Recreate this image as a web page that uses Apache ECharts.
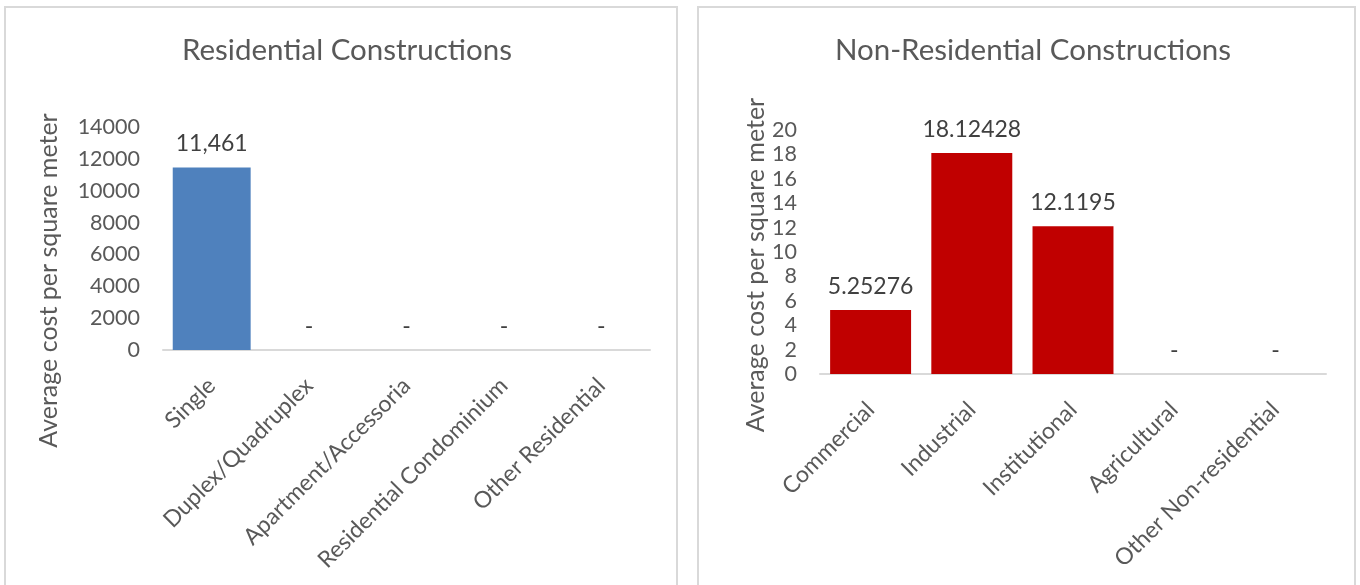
<!DOCTYPE html>
<html>
<head>
<meta charset="utf-8">
<script src="https://cdn.jsdelivr.net/npm/echarts@6/dist/echarts.min.js"></script>
<style>
  html, body { margin: 0; padding: 0; background: #ffffff; }
  #chart { width: 1360px; height: 585px; }
</style>
</head>
<body>
<div id="chart"></div>
<script>
// Average cost per square meter, by construction type
const residentialCategories = ['Single', 'Duplex/Quadruplex', 'Apartment/Accessoria', 'Residential Condominium', 'Other Residential'];
const residentialValues = [11461, 0, 0, 0, 0];

const nonResidentialCategories = ['Commercial', 'Industrial', 'Institutional', 'Agricultural', 'Other Non-residential'];
const nonResidentialValues = [5.25276, 18.12428, 12.1195, 0, 0];

const residentialAxis = { min: 0, max: 14000, interval: 2000 };
const nonResidentialAxis = { min: 0, max: 20, interval: 2 };

const FONT = 'Lato, "Open Sans", sans-serif';
const TEXT = '#595959';
const AXIS_NAME = 'Average cost per square meter';

// zero values are shown as a dash, as in accounting number format
function dashZero(fmt) {
  return p => (p.value === 0 ? '-' : fmt(p.value));
}

function categoryAxis(gridIndex, data) {
  return {
    type: 'category',
    gridIndex,
    data,
    axisTick: { show: false },
    axisLine: { lineStyle: { color: '#d9d9d9', width: 2 } },
    axisLabel: {
      rotate: 45,
      margin: 32,
      interval: 0,
      color: TEXT,
      fontFamily: FONT,
      fontSize: 23
    }
  };
}

function valueAxis(gridIndex, range, nameGap, namePadding) {
  return {
    type: 'value',
    gridIndex,
    min: range.min,
    max: range.max,
    interval: range.interval,
    name: AXIS_NAME,
    nameLocation: 'middle',
    nameGap,
    nameTextStyle: {
      color: TEXT,
      fontFamily: FONT,
      fontSize: 25,
      padding: namePadding
    },
    axisLine: { show: false },
    axisTick: { show: false },
    splitLine: { show: false },
    axisLabel: {
      margin: 23,
      color: TEXT,
      fontFamily: FONT,
      fontSize: 21.5,
      lineHeight: 20,
      showMinLabel: true,
      showMaxLabel: true,
      hideOverlap: false,
      formatter: v => String(v)
    }
  };
}

function barSeries(index, values, color, fmt) {
  return {
    type: 'bar',
    xAxisIndex: index,
    yAxisIndex: index,
    data: values,
    barCategoryGap: '20%',
    itemStyle: { color },
    label: {
      show: true,
      position: 'top',
      distance: 12,
      color: '#404040',
      fontFamily: FONT,
      fontSize: 23,
      formatter: dashZero(fmt)
    },
    animation: false
  };
}

const chart = echarts.init(document.getElementById('chart'), null, { renderer: 'canvas' });

chart.setOption({
  backgroundColor: '#ffffff',
  animation: false,
  title: [
    {
      text: 'Residential Constructions',
      left: 342,
      top: 30,
      textAlign: 'center',
      textStyle: { color: TEXT, fontFamily: FONT, fontSize: 29.5, fontWeight: 'normal' }
    },
    {
      text: 'Non-Residential Constructions',
      left: 1028,
      top: 30,
      textAlign: 'center',
      textStyle: { color: TEXT, fontFamily: FONT, fontSize: 29.5, fontWeight: 'normal' }
    }
  ],
  graphic: [
    {
      type: 'rect',
      shape: { x: 5, y: 7, width: 672, height: 600 },
      style: { fill: 'none', stroke: '#d9d9d9', lineWidth: 2 },
      silent: true
    },
    {
      type: 'rect',
      shape: { x: 698, y: 7, width: 657, height: 600 },
      style: { fill: 'none', stroke: '#d9d9d9', lineWidth: 2 },
      silent: true
    }
  ],
  grid: [
    { left: 163, right: 710, top: 127, bottom: 235 },
    { left: 820, right: 34, top: 130, bottom: 211 }
  ],
  xAxis: [
    categoryAxis(0, residentialCategories),
    categoryAxis(1, nonResidentialCategories)
  ],
  yAxis: [
    valueAxis(0, residentialAxis, 102, [0, 84, 0, 0]),
    valueAxis(1, nonResidentialAxis, 46, [0, 26, 0, 0])
  ],
  series: [
    barSeries(0, residentialValues, '#4f81bd', v => v.toLocaleString('en-US')),
    barSeries(1, nonResidentialValues, '#c00000', v => String(v))
  ]
});
</script>
</body>
</html>
